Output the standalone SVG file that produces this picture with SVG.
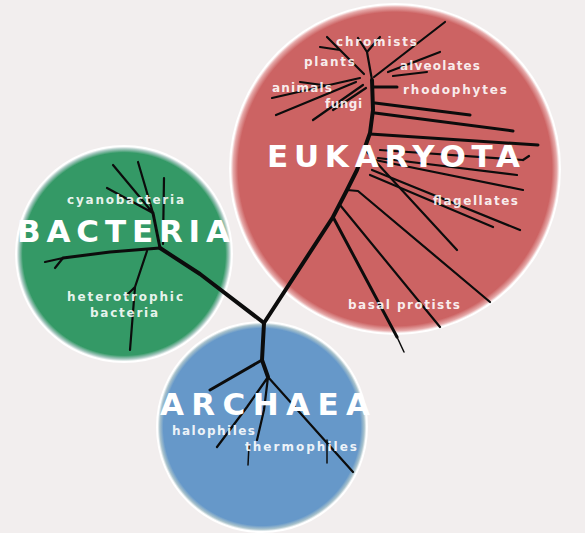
<svg xmlns="http://www.w3.org/2000/svg" width="585" height="533" viewBox="0 0 585 533">
<style>
.br{fill:none;stroke:#0c0c0c;stroke-linecap:round;stroke-linejoin:round}
.w4{stroke-width:4}
.w3{stroke-width:3}
.w2{stroke-width:2.2}
.w1{stroke-width:1.5}
.sm{font-family:"DejaVu Sans","Liberation Sans",Arial,sans-serif;font-weight:bold;font-size:12px;fill:#ffffff;fill-opacity:0.9}
.big{font-family:"DejaVu Sans","Liberation Sans",Arial,sans-serif;font-weight:bold;font-size:31px;fill:#ffffff}
</style>
<defs>
<radialGradient id="gR">
<stop offset="0" stop-color="#cc6363"/>
<stop offset="0.945" stop-color="#cc6363"/>
<stop offset="0.975" stop-color="#e6aaaa"/>
<stop offset="0.99" stop-color="#ffffff"/>
<stop offset="1" stop-color="#ffffff"/>
</radialGradient>
<radialGradient id="gG">
<stop offset="0" stop-color="#349966"/>
<stop offset="0.93" stop-color="#349966"/>
<stop offset="0.965" stop-color="#a9c9c2"/>
<stop offset="0.985" stop-color="#ffffff"/>
<stop offset="1" stop-color="#ffffff"/>
</radialGradient>
<radialGradient id="gB">
<stop offset="0" stop-color="#6698c9"/>
<stop offset="0.93" stop-color="#6698c9"/>
<stop offset="0.965" stop-color="#aac3cc"/>
<stop offset="0.985" stop-color="#ffffff"/>
<stop offset="1" stop-color="#ffffff"/>
</radialGradient>
</defs>
<rect width="585" height="533" fill="#f2eeee"/>
<g id="eukaryota"><circle cx="395" cy="169" r="166" fill="url(#gR)"/></g>
<g id="bacteria"><circle cx="124" cy="254" r="109" fill="url(#gG)"/></g>
<g id="archaea"><circle cx="262" cy="427" r="106" fill="url(#gB)"/></g>
<g id="connectors">
<!-- bacteria -->
<path class="br w4" d="M264,323 L200,274 L160,248"/>
<path class="br w3" d="M160,248 L110,252 L63,258"/>
<path class="br w2" d="M63,258 L45,262 M63,258 L55,268"/>
<path class="br w3" d="M160,248 L153,213"/>
<path class="br w2" d="M153,213 L113,165 M153,213 L138,162 M153,213 L107,188 M163,244 L164,178"/>
<path class="br w2" d="M147,251 L135,287 L130,350 M135,287 L126,296"/>
<!-- eukaryota trunk -->
<path class="br w4" d="M264,323 L333,217 L347,190 L357,170 L370,133 L373,110 L372,80"/>
<path class="br w3" d="M333,217 L397,337"/>
<path class="br w1" d="M397,337 L404,352"/>
<path class="br w2" d="M340,205 L440,327 M347,190 L358,191 L490,302 M365,150 L457,250"/>
<path class="br w2" d="M372,170 L520,230 M370,175 L493,227 M375,160 L523,190 M378,158 L517,175 M380,150 L523,160 M523,160 L529,156"/>
<path class="br w3" d="M370,134 L538,145 M375,113 L513,131 M375,103 L470,115 M373,87 L397,87"/>
<!-- eukaryota crown -->
<path class="br w2" d="M372,80 L367,52 L358,38 M367,52 L380,37"/>
<path class="br w2" d="M364,74 L327,37 M340,50 L320,47"/>
<path class="br w2" d="M360,78 L272,98 M356,82 L276,115 M330,86 L300,82"/>
<path class="br w2" d="M363,85 L313,120 M366,88 L333,110"/>
<path class="br w2" d="M374,77 L445,22 M388,72 L440,52 M393,76 L427,72"/>
<!-- archaea -->
<path class="br w4" d="M264,323 L262,360 L268,377"/>
<path class="br w3" d="M262,360 L210,390"/>
<path class="br w2" d="M268,377 L353,472 M268,377 L264,410 L257,440 M268,377 L247,407 L217,447"/>
<path class="br w1" d="M327,440 L327,463 M249,445 L248,465"/>
</g>
<g id="labels-eukaryota">
<text class="sm" x="336" y="46" textLength="81" lengthAdjust="spacing">chromists</text>
<text class="sm" x="304" y="66" textLength="51" lengthAdjust="spacing">plants</text>
<text class="sm" x="400" y="70" textLength="80" lengthAdjust="spacing">alveolates</text>
<text class="sm" x="272" y="92" textLength="60" lengthAdjust="spacing">animals</text>
<text class="sm" x="403" y="94" textLength="104" lengthAdjust="spacing">rhodophytes</text>
<text class="sm" x="325" y="108" textLength="37" lengthAdjust="spacing">fungi</text>
<text class="big" x="267" y="167" font-size="33" textLength="253" lengthAdjust="spacing">EUKARYOTA</text>
<text class="sm" x="433" y="205" textLength="85" lengthAdjust="spacing">flagellates</text>
<text class="sm" x="348" y="309" textLength="112" lengthAdjust="spacing">basal protists</text>
</g>
<g id="labels-bacteria">
<text class="sm" x="67" y="204" textLength="117" lengthAdjust="spacing">cyanobacteria</text>
<text class="big" x="17" y="242" textLength="213" lengthAdjust="spacing">BACTERIA</text>
<text class="sm" x="67" y="301" textLength="116" lengthAdjust="spacing">heterotrophic</text>
<text class="sm" x="90" y="317" textLength="68" lengthAdjust="spacing">bacteria</text>
</g>
<g id="labels-archaea">
<text class="big" x="160" y="415" textLength="210" lengthAdjust="spacing">ARCHAEA</text>
<text class="sm" x="172" y="435" textLength="83" lengthAdjust="spacing">halophiles</text>
<text class="sm" x="245" y="451" textLength="112" lengthAdjust="spacing">thermophiles</text>
</g>
</svg>
